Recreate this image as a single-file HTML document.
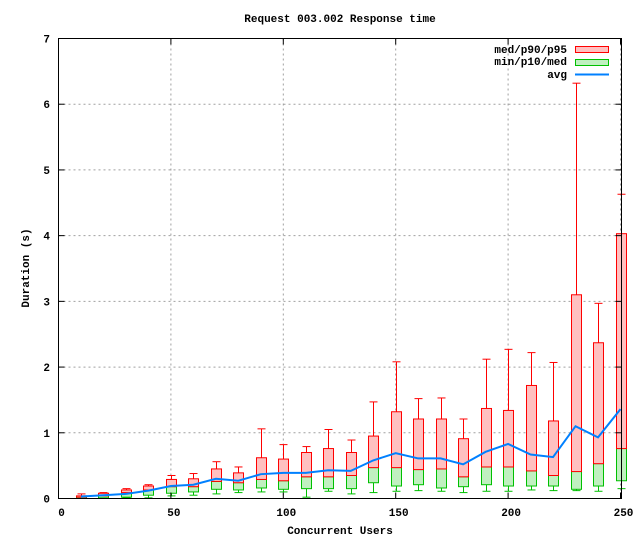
<!DOCTYPE html>
<html><head><meta charset="utf-8"><style>
html,body{margin:0;padding:0;background:#fff;}
svg text{font-family:"Liberation Mono",monospace;font-size:11px;font-weight:bold;fill:#000;}
</style></head><body>
<svg id="chart" width="640" height="540" xmlns="http://www.w3.org/2000/svg">
<text x="340" y="22" text-anchor="middle">Request 003.002 Response time</text>
<g id="grid"></g>
<g id="marks"></g>
<g id="axes"></g>
<text x="340" y="534" text-anchor="middle">Concurrent Users</text>
<text x="29" y="268" text-anchor="middle" transform="rotate(-90 29 268)">Duration (s)</text>
<g>
<text x="567" y="53" text-anchor="end">med/p90/p95</text>
<rect x="575.5" y="46.5" width="33" height="6" fill="#ffc0c0" stroke="#ff0000"/>
<text x="567" y="65" text-anchor="end">min/p10/med</text>
<rect x="575.5" y="59.5" width="33" height="6" fill="#c0f0c0" stroke="#00c000"/>
<text x="567" y="78" text-anchor="end">avg</text>
<line x1="575" y1="74.5" x2="609" y2="74.5" stroke="#0080ff" stroke-width="2"/>
</g>
</svg>
<script>
const users=[10,20,30,40,50,60,70,80,90,100,110,120,130,140,150,160,170,180,190,200,210,220,230,240,250];
const minV=[0,0,0.01,0.01,0.04,0.05,0.07,0.09,0.10,0.10,0.02,0.11,0.07,0.09,0.11,0.12,0.11,0.09,0.11,0.11,0.13,0.12,0.12,0.11,0.15];
const p10V=[0,0.01,0.02,0.05,0.08,0.10,0.14,0.13,0.16,0.14,0.15,0.15,0.15,0.24,0.19,0.21,0.16,0.18,0.21,0.19,0.19,0.19,0.14,0.19,0.27];
const medV=[0.02,0.04,0.09,0.13,0.18,0.18,0.26,0.24,0.29,0.27,0.33,0.33,0.35,0.47,0.47,0.44,0.45,0.33,0.48,0.48,0.42,0.35,0.41,0.53,0.76];
const p90V=[0.04,0.08,0.13,0.19,0.29,0.30,0.45,0.39,0.62,0.60,0.70,0.76,0.70,0.95,1.32,1.21,1.21,0.91,1.37,1.34,1.72,1.18,3.10,2.37,4.03];
const p95V=[0.07,0.09,0.15,0.21,0.35,0.38,0.56,0.48,1.06,0.82,0.79,1.05,0.89,1.47,2.08,1.52,1.53,1.21,2.12,2.27,2.22,2.07,6.32,2.97,4.63];
const avgV=[0.03,0.05,0.07,0.12,0.19,0.21,0.30,0.27,0.37,0.39,0.39,0.43,0.42,0.58,0.69,0.61,0.61,0.52,0.71,0.83,0.67,0.63,1.10,0.93,1.36];
const xTicks=[0,50,100,150,200,250];
const yTicks=[0,1,2,3,4,5,6,7];
const L=58.5,R=621.5,T=38.5,B=498.5;
const X=v=>L+v*(620.5-L)/250;
const Y=v=>B-v*(B-T)/7;
const NS='http://www.w3.org/2000/svg';
function mk(p,tag,a){const e=document.createElementNS(NS,tag);for(const k in a)e.setAttribute(k,a[k]);p.appendChild(e);return e;}
const grid=document.getElementById('grid'),marks=document.getElementById('marks'),axes=document.getElementById('axes');
xTicks.forEach(t=>{
 if(t>0){const g=mk(grid,'line',{x1:X(t),x2:X(t),y1:T,y2:B,stroke:'#a0a0a0','stroke-dasharray':'2,3'});
 
 }
 const k=mk(axes,'line',{x1:X(t),x2:X(t),y1:B,y2:B-6,stroke:'#000'});
 
 
 const k2=mk(axes,'line',{x1:X(t),x2:X(t),y1:T,y2:T+6,stroke:'#000'});
 
 
 const tx=mk(axes,'text',{x:X(t)+3,y:516,'text-anchor':'middle'});tx.textContent=t;
 
 
});
yTicks.forEach(t=>{
 if(t>0&&t<7){const g=mk(grid,'line',{x1:L,x2:R,y1:Y(t),y2:Y(t),stroke:'#a0a0a0','stroke-dasharray':'2,3'});
 
 }
 const k=mk(axes,'line',{x1:L,x2:L+6,y1:Y(t),y2:Y(t),stroke:'#000'});
 
 
 const k2=mk(axes,'line',{x1:R,x2:R-6,y1:Y(t),y2:Y(t),stroke:'#000'});
 
 
 const tx=mk(axes,'text',{x:50,y:Y(t)+4,'text-anchor':'end'});tx.textContent=t;
 
 
});
const bw=5;
users.forEach((u,i)=>{
 const cx=Math.round(X(u))+0.5;
 const wl=mk(marks,'line',{x1:cx,x2:cx,y1:Y(p10V[i]),y2:Y(minV[i]),stroke:'#00c000'});
 
 
 const wc=mk(marks,'line',{x1:cx-4,x2:cx+4,y1:Y(minV[i]),y2:Y(minV[i]),stroke:'#00c000'});
 
 
 const gb=mk(marks,'rect',{x:cx-bw,y:Y(medV[i]),width:2*bw,height:Math.max(0,Y(p10V[i])-Y(medV[i])),fill:'#c0f0c0',stroke:'#00c000'});
 
 
 const rl=mk(marks,'line',{x1:cx,x2:cx,y1:Y(p90V[i]),y2:Y(p95V[i]),stroke:'#ff0000'});
 
 
 const rc=mk(marks,'line',{x1:cx-4,x2:cx+4,y1:Y(p95V[i]),y2:Y(p95V[i]),stroke:'#ff0000'});
 
 
 const rb=mk(marks,'rect',{x:cx-bw,y:Y(p90V[i]),width:2*bw,height:Math.max(0,Y(medV[i])-Y(p90V[i])),fill:'#ffc0c0',stroke:'#ff0000'});
 
 
});
const pts=users.map((u,i)=>X(u)+','+Y(avgV[i])).join(' ');
const av=mk(marks,'polyline',{points:pts,fill:'none',stroke:'#0080ff','stroke-width':2});


const fr=mk(axes,'rect',{x:L,y:T,width:R-L,height:B-T,fill:'none',stroke:'#000'});


</script>
</body></html>
